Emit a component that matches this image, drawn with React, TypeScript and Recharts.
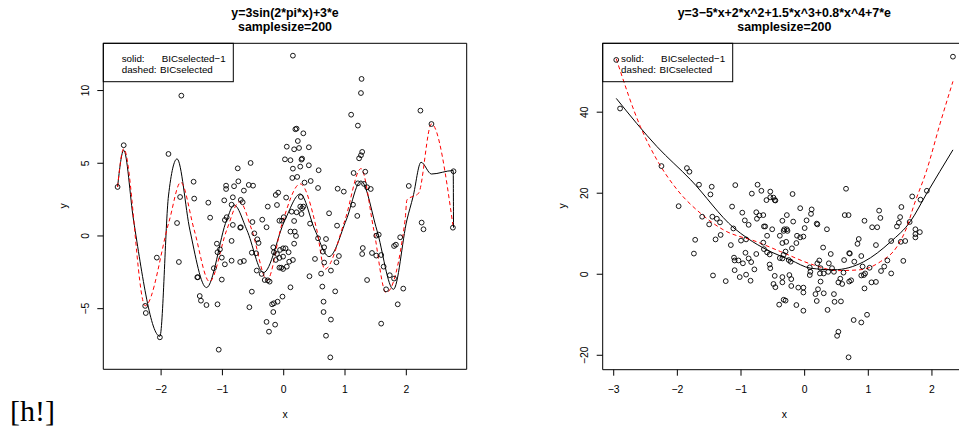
import { ComposedChart, Scatter, Line, XAxis, YAxis, ReferenceArea } from 'recharts'

const FONT = '"Liberation Sans", Arial, Helvetica, sans-serif'

// ---- left panel: y=3sin(2*pi*x)+3*e ----
const sinPoints: [number, number][] = [
  [-2.71, 3.37], [-2.61, 6.24], [-1.67, 9.65], [-1.88, 5.64], [-1.69, 2.68], [-1.74, 0.89], [-1.47, 3.73], [-1.46, 2.57],
  [-1.23, 2.29], [-1.2, 1.26], [-0.97, 2.45], [-0.94, 3.46], [-0.94, 3.23], [-0.81, 3.42], [-0.83, 2.66], [-0.74, 3.76],
  [-0.75, 4.65], [-0.54, 5.02], [-0.65, 3.12], [-0.57, 3.51], [-0.5, 3.46], [-0.7, 2.48], [-0.67, 2.32], [-0.85, 2.15],
  [-0.96, 1.1], [-0.93, 1.29], [-0.83, 0.76], [-0.7, 0.6], [-0.51, 0.96], [-0.35, 1.12], [-0.28, 0.6], [-0.26, 2.02],
  [-0.11, 2.13], [-0.13, 2.82], [-0.09, 2.98], [-0.07, 1.05],
  [0.15, 12.4], [1.27, 10.8], [1.26, 9.83], [1.1, 8.34], [1.21, 7.59], [2.23, 8.62], [2.41, 7.7], [0.19, 7.34], [0.21, 7.38],
  [0.32, 7.06], [0.23, 6.53], [0.05, 6.14], [0.17, 5.96], [0.25, 6.05], [0.41, 6.1], [0.02, 5.27], [0.11, 5.21],
  [0.3, 5.32], [0.29, 5.25], [0.15, 4.63], [0.27, 4.77], [0.41, 4.86], [0.57, 4.52], [0.14, 3.99], [0.22, 4.06],
  [0.34, 3.67], [0.44, 3.78], [0.56, 3.3], [0.04, 2.64], [0.28, 2.68], [0.27, 2.02], [0.32, 2.02], [0.3, 1.9],
  [0.13, 1.67], [0.21, 1.63], [0.29, 1.51], [0.17, 1.03], [0.0, 1.29], [-0.03, 1.05], [0.43, 0.85], [0.74, 1.56],
  [0.87, 0.71], [1.13, 2.15], [1.2, 1.38], [0.88, 3.25], [0.98, 3.05], [1.14, 4.33], [1.21, 3.62], [1.28, 5.78],
  [1.26, 5.55], [1.23, 5.34], [1.33, 4.42], [1.31, 3.58], [1.36, 3.35], [1.42, 3.23], [2.04, 3.44], [2.25, 0.92],
  [2.28, 0.46], [2.77, 4.45], [2.76, 0.57],
  [-2.07, -1.49], [-1.71, -1.79], [-2.26, -4.81], [-2.25, -5.3], [-2.02, -6.97], [-1.41, -2.84], [-1.4, -2.84],
  [-1.37, -4.13], [-1.35, -4.45], [-1.26, -4.75], [-1.08, -4.7], [-1.06, -7.82], [-1.09, -0.53], [-1.08, -1.12],
  [-1.04, -0.92], [-1.01, -1.49], [-0.96, -1.95], [-1.14, -2.22], [-1.01, -3.0], [-0.85, -0.34], [-0.85, -1.7],
  [-0.71, -1.79], [-0.65, -1.72], [-0.71, 0.57], [-0.52, -3.83], [-0.56, -4.9], [-0.48, 0.18], [-0.43, -0.23],
  [-0.41, -0.48], [-0.52, -1.15], [-0.45, -1.19], [-0.44, -2.38], [-0.36, -2.61], [-0.31, -3.03], [-0.23, -3.14],
  [-0.26, -3.05], [-0.17, -0.78], [-0.16, -1.12], [-0.13, -1.65], [-0.07, -1.51], [-0.06, -0.96], [-0.07, -2.18],
  [-0.19, -4.7], [-0.16, -4.63], [-0.1, -4.52], [-0.17, -5.23], [-0.28, -5.91], [-0.24, -6.58], [-0.14, -6.1],
  [-0.11, -1.24], [-0.01, -0.85], [0.03, -0.85], [0.08, -1.12], [-0.01, -1.42], [-0.04, -2.18], [-0.01, -2.27],
  [0.05, -2.11], [0.09, -1.77], [0.15, -1.65], [0.11, 0.3], [0.18, 0.3], [0.2, 0.0], [0.17, -0.53], [0.11, -3.53],
  [-0.02, -4.17], [0.56, -0.16], [0.69, -0.21], [0.66, -0.78], [0.64, -1.08], [0.51, -1.58], [0.66, -1.83],
  [0.86, -1.81], [0.9, -1.38], [0.77, -2.38], [0.61, -2.59], [0.42, -2.77], [0.63, -3.48], [0.84, -3.81],
  [0.65, -4.52], [0.65, -5.23], [0.77, -5.75], [0.69, -6.86], [0.76, -8.35], [1.29, -0.83], [1.28, -1.24],
  [1.44, -1.17], [1.51, -1.35], [1.59, -1.31], [1.51, 0.02], [1.55, 0.09], [1.63, -2.11], [1.36, -3.03],
  [1.73, -2.7], [1.8, -2.93], [1.67, -3.67], [1.8, -0.69], [1.83, -0.6], [1.9, -0.09], [1.95, -3.62],
  [1.86, -4.7], [1.59, -6.03],
]

// BICselected-1 fit (solid)
const sinSolid: [number, number][] = [
  [-2.71, 3.37], [-2.61, 5.9], [-2.45, 1.1], [-2.02, -6.9], [-1.88, 2.75], [-1.74, 5.3], [-1.53, 0.4],
  [-1.26, -3.55], [-0.93, 1.1], [-0.81, 2.13], [-0.6, 0.4], [-0.33, -2.52], [0.02, 1.1], [0.27, 2.89],
  [0.51, 0.4], [0.74, -1.42], [1.02, 1.1], [1.26, 3.78], [1.52, 0.4], [1.79, -3.67], [2.01, 1.1], [2.11, 2.7],
  [2.24, 5.07], [2.41, 4.26], [2.765, 4.5], [2.77, 0.57],
]

// BICselected fit (dashed)
const sinDashed: [number, number][] = [
  [-2.71, 3.37], [-2.61, 6.0], [-2.26, -4.8], [-1.87, 1.0], [-1.68, 3.69], [-1.46, 0.41], [-1.21, -3.14],
  [-0.93, 0.41], [-0.72, 2.36], [-0.52, 0.41], [-0.27, -3.03], [-0.03, 0.8], [0.27, 3.58], [0.54, 0.41],
  [0.67, -2.29], [1.0, 1.1], [1.26, 4.63], [1.47, 0.41], [1.67, -3.9], [1.98, 1.1], [2.01, 2.48], [2.2, 2.94],
  [2.41, 7.7], [2.76, 0.75],
]

// ---- right panel: y=3-5*x+2*x^2+1.5*x^3+0.8*x^4+7*e ----
const polyPoints: [number, number][] = [
  [-2.96, 52.9], [2.33, 53.7], [-2.9, 40.9], [-2.25, 26.7], [-1.85, 26.2], [-1.81, 25.3], [-1.66, 22.1], [-1.46, 21.6],
  [-1.48, 19.7], [-1.09, 22.0], [-1.98, 16.8], [-1.61, 14.2], [-1.45, 14.2], [-1.38, 13.7], [-1.5, 12.3], [-1.33, 12.8],
  [-1.14, 16.7], [-1.12, 11.3], [-0.98, 15.2], [-0.94, 13.3], [-0.88, 12.2], [-0.83, 19.9], [-0.74, 22.1], [-0.68, 20.6],
  [-0.6, 18.3], [-0.54, 20.4], [-0.54, 19.0], [-0.47, 18.3], [-0.76, 15.3], [-0.75, 13.7], [-0.71, 14.5], [-0.65, 14.6],
  [-0.64, 11.8], [-0.62, 11.8], [-0.51, 11.1],
  [0.65, 21.1], [-0.49, 18.9], [-0.46, 18.2], [-0.19, 19.8], [-0.07, 16.3], [0.11, 16.0], [0.1, 14.9], [-0.28, 14.6],
  [-0.35, 13.2], [-0.18, 13.0], [0.03, 13.3], [0.19, 12.5], [0.2, 12.3], [0.63, 14.6], [0.69, 14.6], [1.17, 15.7],
  [1.19, 13.9], [0.94, 13.2], [1.52, 16.6], [1.69, 19.2], [1.82, 18.4], [1.92, 20.6], [1.5, 14.1], [1.48, 12.7],
  [1.65, 12.9], [1.45, 11.8], [1.06, 11.6], [1.14, 11.6], [1.74, 11.1], [-0.32, 11.1], [-0.28, 11.1], [0.0, 11.4],
  [0.35, 11.1],
  [-1.72, 8.5], [-1.74, 5.1], [-1.44, -0.3], [-1.24, -1.7], [-1.4, 8.6], [-1.32, 9.7], [-1.16, 7.2], [-1.11, 4.1],
  [-1.1, 3.4], [-1.04, 3.4], [-0.97, 2.7], [-1.1, 1.0], [-1.02, -0.7], [-0.92, -0.1], [-0.85, -1.6], [-0.79, 1.2],
  [-0.93, 5.3], [-0.88, 3.9], [-0.84, 3.0], [-0.76, 5.0], [-1.0, 8.3], [-0.92, 8.6], [-0.65, 7.8], [-0.64, 6.2],
  [-0.59, 5.4], [-0.55, 4.9], [-0.59, 9.5], [-0.55, 2.4], [-0.54, 1.5], [-0.47, -0.4], [-0.49, -2.4], [-0.46, -3.2],
  [-0.4, -7.5], [-0.39, 9.5], [-0.39, 4.0],
  [-0.33, 10.7], [-0.27, 10.7], [-0.35, 7.7], [-0.29, 8.0], [-0.2, 6.4], [-0.3, 5.6], [-0.33, 4.8], [-0.35, 3.9],
  [-0.25, 3.5], [-0.22, 3.1], [-0.12, 9.5], [-0.13, 7.7], [-0.07, 9.1], [-0.02, 9.3], [0.29, 6.6], [0.41, 5.0],
  [0.23, 3.4], [0.2, 2.7], [0.08, 1.7], [0.09, 0.6], [0.08, -0.2], [0.24, 0.2], [0.3, 0.2], [0.38, 2.7], [0.43, 1.5],
  [0.46, 0.6], [0.37, 0.6], [0.25, -1.8], [0.21, -3.7], [0.17, -4.9], [0.19, -6.6], [0.3, -4.7], [0.36, -8.8],
  [0.46, -4.9], [0.47, -6.8], [0.57, -6.7], [0.53, -2.0], [0.59, -2.4], [0.56, -1.1], [0.61, 0.4], [0.62, 3.5],
  [0.7, 5.2], [0.71, 5.1], [0.78, 3.1], [0.89, 4.5], [0.83, 7.5], [0.85, 8.7], [0.7, -1.8], [0.73, -1.5],
  [0.77, -11.3], [0.89, -11.9], [0.98, -10.0], [0.53, -14.2], [0.51, -15.2], [0.69, -20.5], [0.91, 1.9],
  [0.93, -0.2], [0.89, -0.3], [0.94, -3.5], [1.02, 1.6], [0.95, 0.2], [1.05, -2.0], [1.12, -1.9], [1.12, 7.2],
  [1.2, 0.8], [1.25, 1.9], [1.3, 3.4], [1.36, 0.2], [1.36, 8.2], [1.55, 3.3], [1.51, 8.0], [1.58, 8.2],
  [1.74, 9.9], [1.74, 9.1], [1.81, 10.4], [-0.02, -3.3], [-0.02, -4.5], [-0.02, -9.0], [-0.1, -3.3],
  [-0.13, -7.6], [-0.21, -2.9], [-0.21, -1.2], [-0.24, -0.2], [-0.33, -6.3], [-0.3, -6.5], [-0.35, -0.7],
  [-0.35, -2.0], [0.25, 1.5],
]

const polySolid: [number, number][] = [
  [-2.96, 43.4], [-2.32, 31.5], [-1.79, 23.3], [-1.11, 11.4], [-0.9, 8.9], [-0.59, 6.0], [-0.22, 3.5],
  [0.09, 1.5], [0.46, 1.1], [0.93, 3.1], [1.35, 8.0], [1.66, 13.0], [1.92, 20.0], [2.33, 30.7],
]

const polyDashed: [number, number][] = [
  [-2.96, 53.2], [-2.58, 36.4], [-2.32, 28.2], [-2.0, 20.8], [-1.64, 15.1], [-1.27, 10.9], [-0.75, 8.0],
  [-0.38, 5.6], [0.14, 2.3], [0.51, 0.9], [0.87, 1.1], [1.19, 3.1], [1.45, 6.8], [1.61, 11.8], [1.71, 16.7],
  [1.92, 25.8], [2.13, 37.3], [2.33, 47.6],
]

const sinXTicks = [-2, -1, 0, 1, 2]
const sinYTicks = [-5, 0, 5, 10]
const polyXTicks = [-3, -2, -1, 0, 1, 2]
const polyYTicks = [-20, 0, 20, 40]

const toPts = (a: [number, number][]) => a.map(([x, y]) => ({ x, y }))
const fmt = (v: number) => (v < 0 ? '\u2212' + Math.abs(v) : String(v))

function XTick({ x, y, payload }: any) {
  return (
    <text x={x} y={y + 17.7} textAnchor="middle" fontSize={10.4} fontFamily={FONT} fill="#000">
      {fmt(payload.value)}
    </text>
  )
}

function YTick({ x, y, payload }: any) {
  const bx = x - 8.6
  return (
    <text x={bx} y={y} transform={`rotate(-90 ${bx} ${y})`} textAnchor="middle" fontSize={10.4} fontFamily={FONT} fill="#000">
      {fmt(payload.value)}
    </text>
  )
}

const Ring = (p: any) => <circle cx={p.cx} cy={p.cy} r={2.4} fill="none" stroke="#000" strokeWidth={0.9} />

function Panel({ points, solid, dashed, xDomain, yDomain, xTicks, yTicks, margin }: {
  points: [number, number][]
  solid: [number, number][]
  dashed: [number, number][]
  xDomain: [number, number]
  yDomain: [number, number]
  xTicks: number[]
  yTicks: number[]
  margin: { top: number; right: number; bottom: number; left: number }
}) {
  return (
    <ComposedChart width={480} height={447} margin={margin}>
      <XAxis dataKey="x" type="number" domain={xDomain} ticks={xTicks} allowDataOverflow height={30}
        axisLine={false} tickLine={{ stroke: '#000' }} tickSize={6} tickMargin={0} tick={<XTick />} />
      <YAxis dataKey="y" type="number" domain={yDomain} ticks={yTicks} allowDataOverflow width={60}
        axisLine={false} tickLine={{ stroke: '#000' }} tickSize={6} tickMargin={0} tick={<YTick />} />
      <ReferenceArea x1={xDomain[0]} x2={xDomain[1]} y1={yDomain[0]} y2={yDomain[1]} fill="none"
        stroke="#000" strokeWidth={1} ifOverflow="visible" />
      <Scatter data={toPts(points)} shape={Ring} isAnimationActive={false} />
      <Line data={toPts(solid)} dataKey="y" type="monotone" stroke="#000" strokeWidth={1} dot={false}
        activeDot={false} isAnimationActive={false} />
      <Line data={toPts(dashed)} dataKey="y" type="monotone" stroke="#ff0000" strokeWidth={1} strokeDasharray="4 3"
        dot={false} activeDot={false} isAnimationActive={false} />
    </ComposedChart>
  )
}

function LegendBox({ left }: { left: number }) {
  return (
    <g fontFamily={FONT} fontSize={9.8} fill="#000">
      <rect x={left} y={43.3} width={130} height={38.4} fill="none" stroke="#000" strokeWidth={1} />
      <text x={left + 18.4} y={62.3}>solid:</text>
      <text x={left + 58.4} y={62.3}>BICselected{'\u2212'}1</text>
      <text x={left + 18.4} y={72.7}>dashed:</text>
      <text x={left + 56.7} y={72.7}>BICselected</text>
    </g>
  )
}

export default function App() {
  return (
    <div style={{ position: 'absolute', left: 0, top: 0, width: 959, height: 447, overflow: 'hidden', background: '#fff' }}>
      <div style={{ position: 'absolute', left: 0, top: 0 }}>
        <Panel points={sinPoints} solid={sinSolid} dashed={sinDashed} xDomain={[-2.943, 2.985]} yDomain={[-9.17, 13.25]}
          xTicks={sinXTicks} yTicks={sinYTicks} margin={{ top: 43.3, right: 13.3, bottom: 47.7, left: 43.3 }} />
      </div>
      <div style={{ position: 'absolute', left: 500, top: 0 }}>
        <Panel points={polyPoints} solid={polySolid} dashed={polyDashed} xDomain={[-3.173, 2.535]} yDomain={[-23.56, 57.0]}
          xTicks={polyXTicks} yTicks={polyYTicks} margin={{ top: 43.3, right: 14, bottom: 47.3, left: 42.7 }} />
      </div>
      <svg width={959} height={447} style={{ position: 'absolute', left: 0, top: 0, pointerEvents: 'none' }}>
        <g fontFamily={FONT} fontWeight="bold" fontSize={12.4} textAnchor="middle" fill="#000">
          <text x={285} y={16.5}>y=3sin(2*pi*x)+3*e</text>
          <text x={285} y={31}>samplesize=200</text>
          <text x={784.3} y={16.5}>y=3{'\u2212'}5*x+2*x^2+1.5*x^3+0.8*x^4+7*e</text>
          <text x={784.3} y={31}>samplesize=200</text>
        </g>
        <LegendBox left={103.3} />
        <LegendBox left={602.7} />
        <g fontFamily={FONT} fontSize={10.4} textAnchor="middle" fill="#000">
          <text x={285} y={418}>x</text>
          <text x={784.3} y={418}>x</text>
          <text x={66.7} y={206} transform="rotate(-90 66.7 206)">y</text>
          <text x={566.1} y={206} transform="rotate(-90 566.1 206)">y</text>
        </g>
        <text x={10} y={421} fontFamily='"Liberation Serif", "DejaVu Serif", serif' fontSize={30} fill="#000">[h!]</text>
      </svg>
    </div>
  )
}
